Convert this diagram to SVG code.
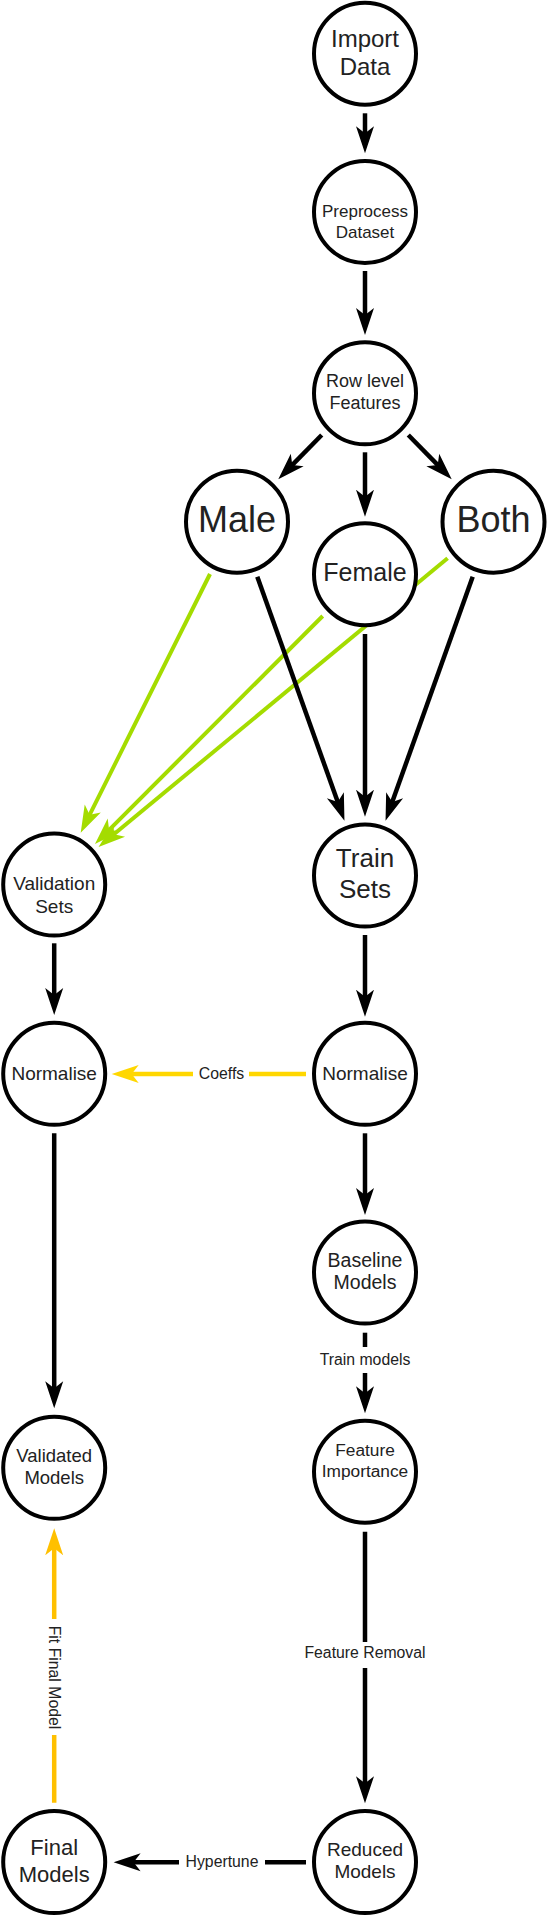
<svg xmlns="http://www.w3.org/2000/svg" width="547" height="1917" viewBox="0 0 547 1917">
<defs>
<style>
.node circle{fill:#fff;stroke:#000;stroke-width:4}
.node text{font-family:"Liberation Sans",Arial,sans-serif;fill:#222;text-anchor:middle}
.edge{fill:none;stroke-linecap:butt}
.blk{stroke:#000;stroke-width:4.5}
.grn{stroke:#A4DC00;stroke-width:4}
.ylw{stroke:#FFD700;stroke-width:4.5}
.org{stroke:#FFC000;stroke-width:4.5}
.lbl{font-family:"Liberation Sans",Arial,sans-serif;font-size:15.8px;fill:#222;text-anchor:middle}
.bg{fill:#fff}
</style>
<marker id="aB" markerUnits="userSpaceOnUse" viewBox="0 -10 28 20" markerWidth="28" markerHeight="20" refX="9" refY="0" orient="auto"><path d="M0,-9 L27,0 L0,9 L7,0 Z" fill="#000"/></marker>
<marker id="aG" markerUnits="userSpaceOnUse" viewBox="0 -10 28 20" markerWidth="28" markerHeight="20" refX="9" refY="0" orient="auto"><path d="M0,-9 L27,0 L0,9 L7,0 Z" fill="#A4DC00"/></marker>
<marker id="aY" markerUnits="userSpaceOnUse" viewBox="0 -10 28 20" markerWidth="28" markerHeight="20" refX="9" refY="0" orient="auto"><path d="M0,-9 L27,0 L0,9 L7,0 Z" fill="#FFD700"/></marker>
<marker id="aO" markerUnits="userSpaceOnUse" viewBox="0 -10 28 20" markerWidth="28" markerHeight="20" refX="9" refY="0" orient="auto"><path d="M0,-9 L27,0 L0,9 L7,0 Z" fill="#FFC000"/></marker>
</defs>
<rect width="547" height="1917" fill="#fff"/>
<g id="connectors">
<path class="edge blk" d="M365,113.3 L365,135.3" marker-end="url(#aB)"/>
<path class="edge blk" d="M365,271 L365,317" marker-end="url(#aB)"/>
<path class="edge blk" d="M321.7,435 L290.9,466.4" marker-end="url(#aB)"/>
<path class="edge blk" d="M365,452.3 L365,498.7" marker-end="url(#aB)"/>
<path class="edge blk" d="M408.3,435 L439.1,466.4" marker-end="url(#aB)"/>
<path class="edge grn" d="M210,574 L88.75,816.6" marker-end="url(#aG)"/>
<path class="edge grn" d="M322.7,616 L107.7,831.3" marker-end="url(#aG)"/>
<path class="edge grn" d="M447.6,558.3 L112.4,835.5" marker-end="url(#aG)"/>
<path class="edge blk" d="M257.3,576.7 L338.4,803.8" marker-end="url(#aB)"/>
<path class="edge blk" d="M365,634 L365,798.7" marker-end="url(#aB)"/>
<path class="edge blk" d="M472.7,576.7 L391.6,803.8" marker-end="url(#aB)"/>
<path class="edge blk" d="M54.2,943.3 L54.2,997" marker-end="url(#aB)"/>
<path class="edge blk" d="M365,935 L365,998.7" marker-end="url(#aB)"/>
<path class="edge ylw" d="M306,1074 L129.7,1074" marker-end="url(#aY)"/>
<path class="edge blk" d="M365,1133.3 L365,1197" marker-end="url(#aB)"/>
<path class="edge blk" d="M365,1332.7 L365,1395.3" marker-end="url(#aB)"/>
<path class="edge blk" d="M54.2,1133.3 L54.2,1390.3" marker-end="url(#aB)"/>
<path class="edge blk" d="M365,1531.7 L365,1785.3" marker-end="url(#aB)"/>
<path class="edge org" d="M54.2,1802.7 L54.2,1546.3" marker-end="url(#aO)"/>
<path class="edge blk" d="M306,1862.3 L131.6,1862.3" marker-end="url(#aB)"/>
<g id="edge-labels">
<rect class="bg" x="193" y="1062" width="56" height="24"/>
<text class="lbl" x="221.5" y="1079">Coeffs</text>
<rect class="bg" x="318" y="1347" width="94" height="26"/>
<text class="lbl" x="365" y="1365">Train models</text>
<rect class="bg" x="302" y="1642" width="126" height="26"/>
<text class="lbl" x="365" y="1658.3">Feature Removal</text>
<rect class="bg" x="179" y="1850" width="86" height="24"/>
<text class="lbl" x="222" y="1866.7">Hypertune</text>
<rect class="bg" x="44" y="1619" width="20" height="116"/>
<text class="lbl" x="54.2" y="1683" transform="rotate(90 54.2 1677.5)">Fit Final Model</text>
</g>
</g>
<g id="import" class="node"><circle cx="365" cy="53.7" r="51"/><text font-size="24" x="365" y="46.7">Import</text><text font-size="24" x="365" y="75">Data</text></g>
<g id="preprocess" class="node"><circle cx="365" cy="212" r="51"/><text font-size="17" x="365" y="217.3">Preprocess</text><text font-size="17" x="365" y="237.7">Dataset</text></g>
<g id="rowlevel" class="node"><circle cx="365" cy="393.3" r="51"/><text font-size="18" x="365" y="387.3">Row level</text><text font-size="18" x="365" y="409">Features</text></g>
<g id="male" class="node"><circle cx="237" cy="521.7" r="51"/><text font-size="36" x="237" y="531.5">Male</text></g>
<g id="female" class="node"><circle cx="365" cy="574.2" r="51"/><text font-size="25" x="365" y="580.7">Female</text></g>
<g id="both" class="node"><circle cx="493.5" cy="521.7" r="51"/><text font-size="36" x="493.5" y="531.5">Both</text></g>
<g id="validation" class="node"><circle cx="54.2" cy="884.5" r="51"/><text font-size="19" x="54.2" y="890">Validation</text><text font-size="19" x="54.2" y="913.3">Sets</text></g>
<g id="train" class="node"><circle cx="365" cy="875.5" r="51"/><text font-size="26" x="365" y="866.7">Train</text><text font-size="26" x="365" y="898.3">Sets</text></g>
<g id="normalise-left" class="node"><circle cx="54.2" cy="1073.8" r="51"/><text font-size="19" x="54.2" y="1080">Normalise</text></g>
<g id="normalise-right" class="node"><circle cx="365" cy="1073.8" r="51"/><text font-size="19" x="365" y="1080">Normalise</text></g>
<g id="baseline" class="node"><circle cx="365" cy="1272.5" r="51"/><text font-size="19.5" x="365" y="1267.3">Baseline</text><text font-size="19.5" x="365" y="1289.3">Models</text></g>
<g id="featimp" class="node"><circle cx="365" cy="1471.7" r="51"/><text font-size="17.3" x="365" y="1456">Feature</text><text font-size="17.3" x="365" y="1476.7">Importance</text></g>
<g id="validated" class="node"><circle cx="54.2" cy="1467.8" r="51"/><text font-size="18.5" x="54.2" y="1461.7">Validated</text><text font-size="18.5" x="54.2" y="1484.3">Models</text></g>
<g id="reduced" class="node"><circle cx="365" cy="1862" r="51"/><text font-size="19" x="365" y="1856">Reduced</text><text font-size="19" x="365" y="1878.3">Models</text></g>
<g id="final" class="node"><circle cx="54.2" cy="1862" r="51"/><text font-size="22" x="54.2" y="1855">Final</text><text font-size="22" x="54.2" y="1881.7">Models</text></g>
</svg>
